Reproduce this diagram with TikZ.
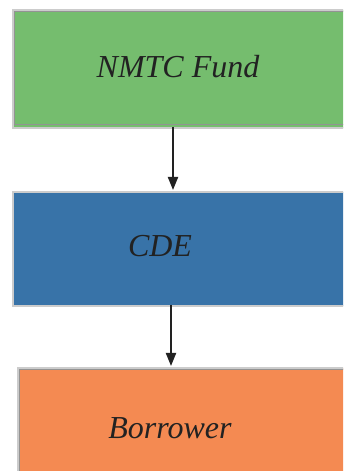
\documentclass[tikz,border=0pt]{standalone}
\usepackage{fontspec}
\setmainfont{Liberation Serif}
\usetikzlibrary{arrows.meta}
\definecolor{boxgreen}{HTML}{75BD6E}
\definecolor{boxblue}{HTML}{3873A8}
\definecolor{boxorange}{HTML}{F48A52}
\definecolor{txt}{HTML}{222222}
\tikzset{
  box/.style={draw=gray!40, line width=1.8pt, inner sep=0pt, anchor=north west},
  innerline/.style={draw=gray!85, line width=0.7pt},
  lbl/.style={font=\fontsize{32}{32}\selectfont\itshape, text=txt, inner sep=0pt},
  conn/.style={draw=txt, line width=2pt, -{Triangle[length=13pt,width=10pt]}},
}
\begin{document}
\begin{tikzpicture}[x=1pt,y=1pt]
\useasboundingbox (0,0) rectangle (343,471);
\clip (0,0) rectangle (343,471);
% boxes
\node[box, fill=boxgreen, minimum width=360pt, minimum height=118pt] (fund) at (12,462) {};
\draw[innerline] (14.5,346.5) rectangle (360,459.5);
\node[box, fill=boxblue, minimum width=360pt, minimum height=114pt] (cde) at (12,280) {};
\node[box, fill=boxorange, minimum width=360pt, minimum height=120pt] (borrower) at (17,104) {};
\draw[innerline] (19.5,-20) rectangle (360,101.5);
% labels
\node[lbl] (tfund) at (178,404) {NMTC Fund};
\node[lbl] (tcde) at (160,225) {CDE};
\node[lbl] (tborrower) at (170,43) {Borrower};
% connectors
\coordinate (a1s) at (173,344);
\coordinate (a1e) at (173,281);
\coordinate (a2s) at (171,166);
\coordinate (a2e) at (171,105);
\draw[conn] (a1s) -- (a1e);
\draw[conn] (a2s) -- (a2e);
\end{tikzpicture}
\end{document}
